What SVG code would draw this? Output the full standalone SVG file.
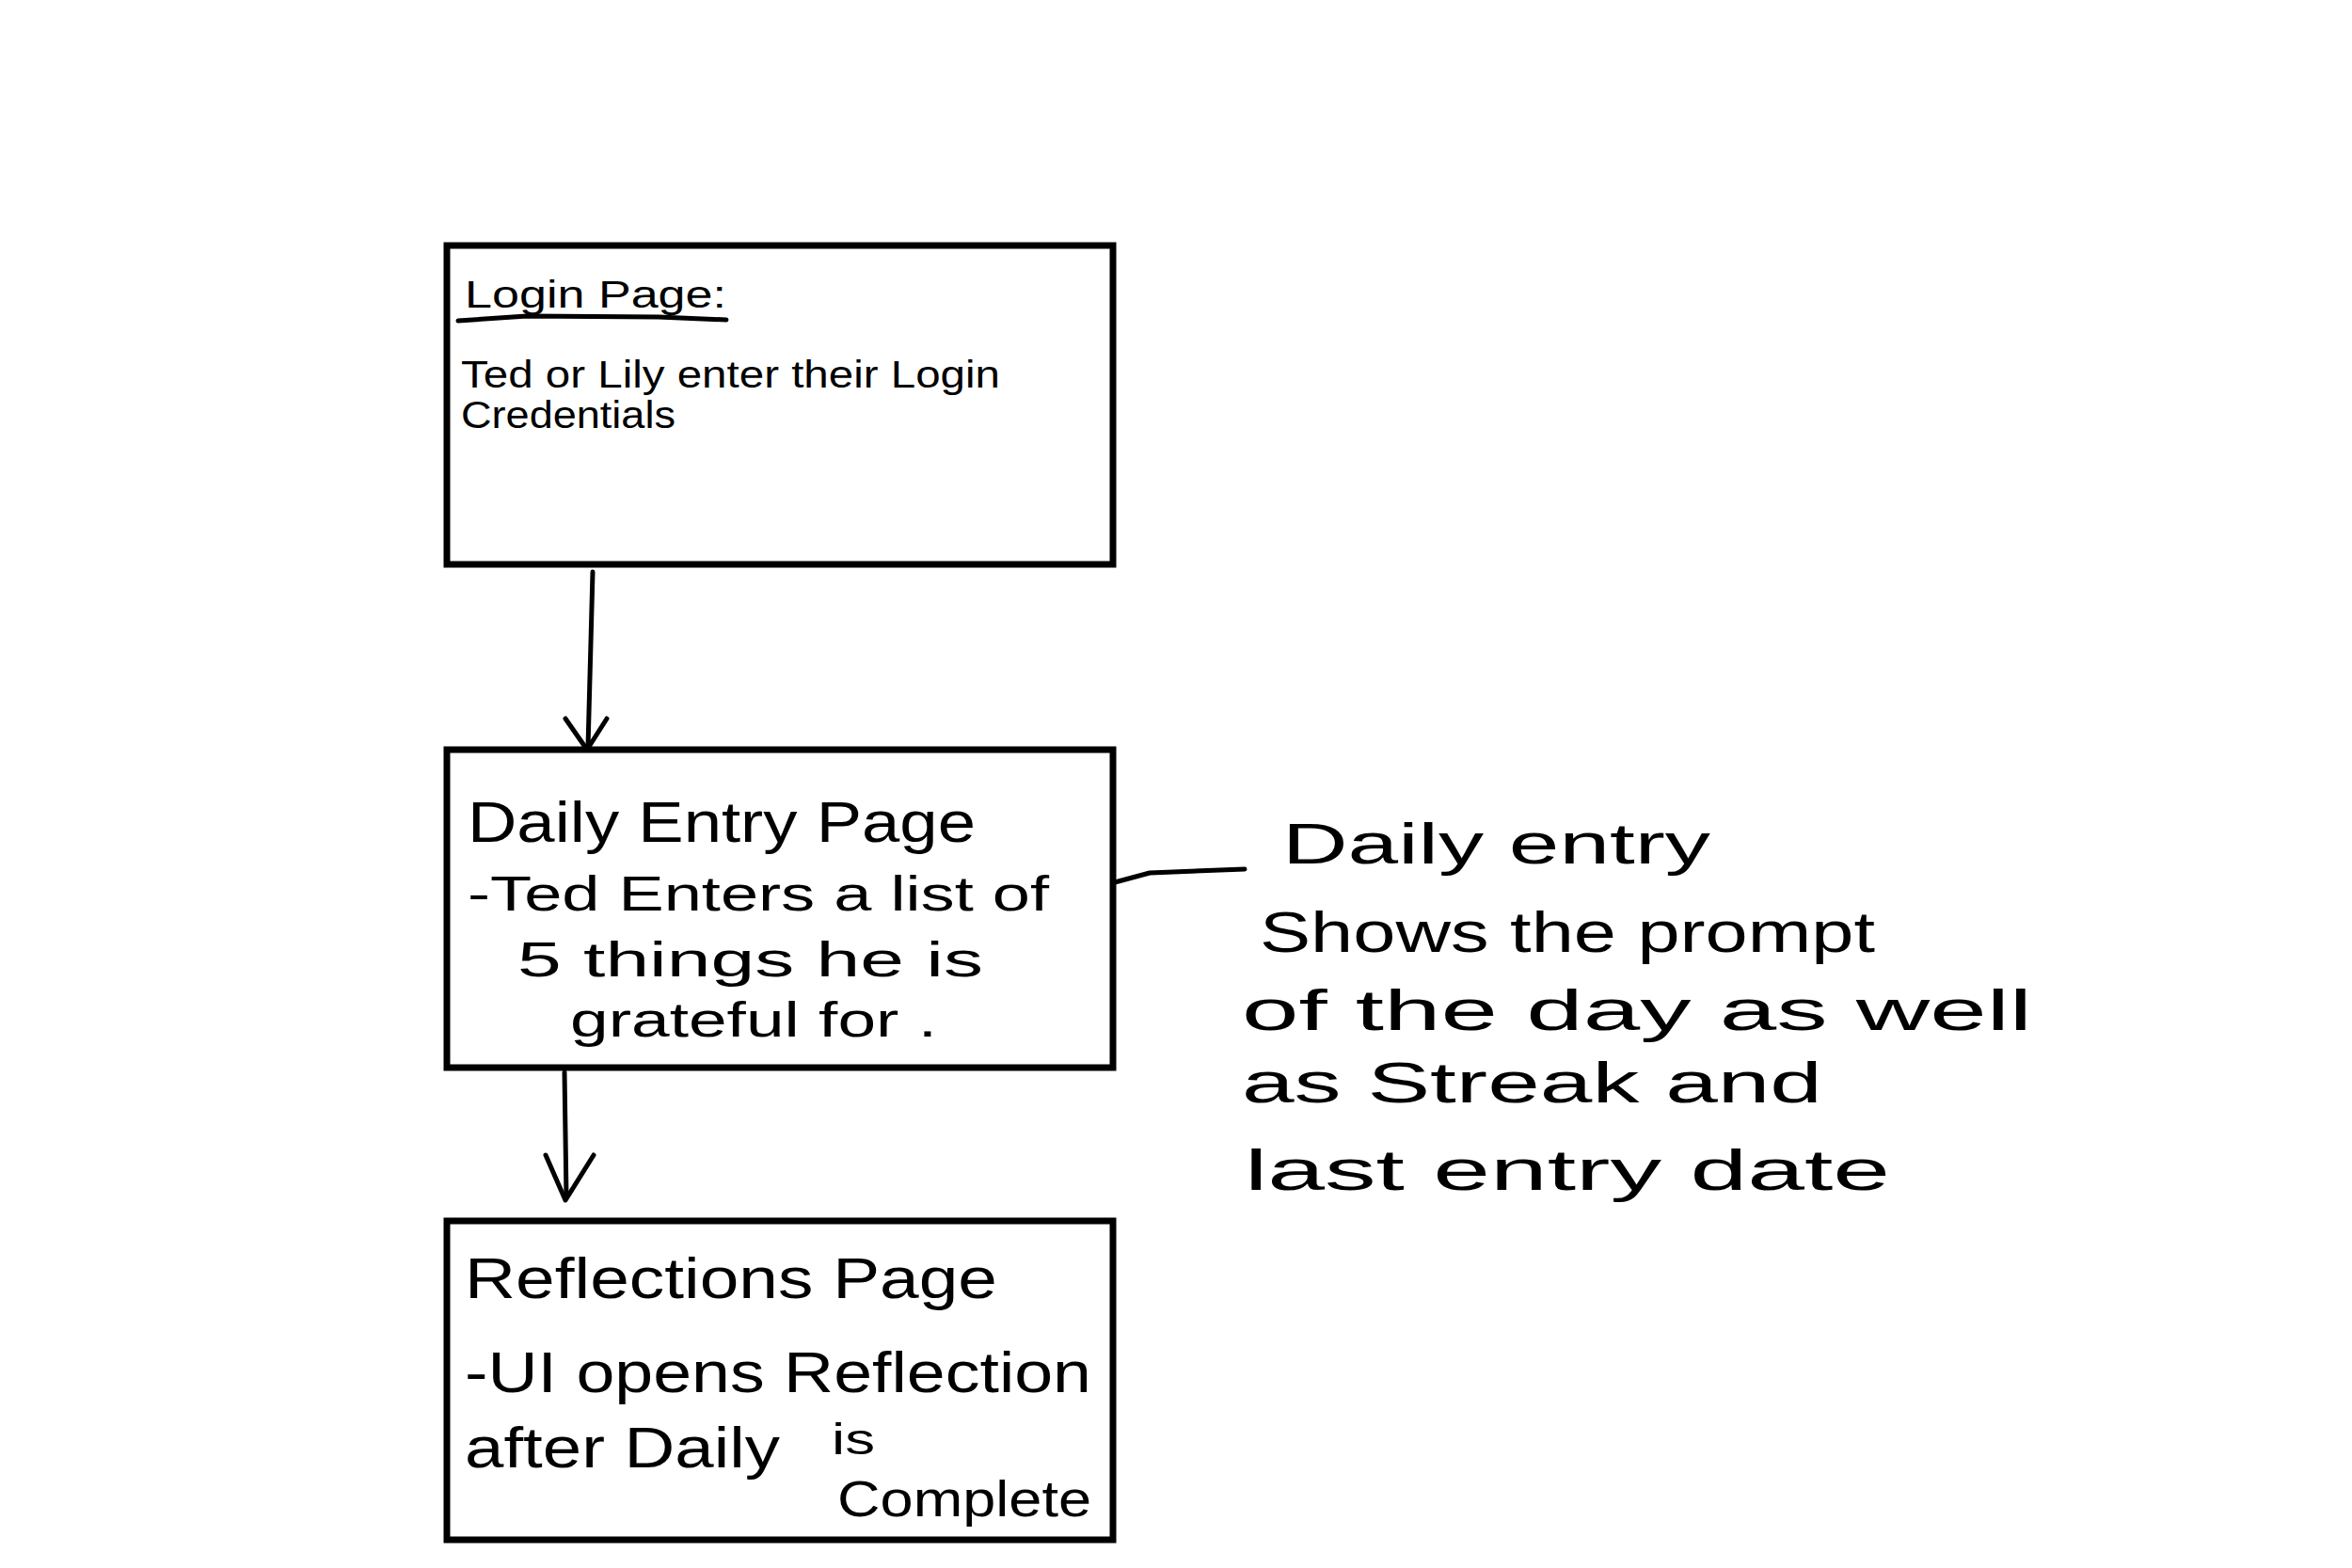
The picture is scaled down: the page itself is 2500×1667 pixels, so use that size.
<svg xmlns="http://www.w3.org/2000/svg" width="2500" height="1667" viewBox="0 0 2500 1667">
<style>
.box{fill:#fff;stroke:#000;stroke-width:7;stroke-linecap:round}
.ln{fill:none;stroke:#000;stroke-width:5;stroke-linecap:round;stroke-linejoin:round}
text{font-family:"Liberation Sans",Arial,sans-serif;fill:#000}
.s{font-size:40px}
.m{font-size:52px}
.l{font-size:62px}
</style>
<rect width="2500" height="1667" fill="#fff"/>
<g id="connectors">
<path class="ln" d="M630 608 L625 795"/>
<path class="ln" d="M601 764 L624 797 L645 764"/>
<path class="ln" d="M600 1140 L602 1272"/>
<path class="ln" d="M580 1228 L601 1276 L631 1228"/>
<path class="ln" d="M1185 938 L1222 928 L1323 924"/>
</g>
<g id="login">
<rect class="box" x="475" y="261" width="708" height="339"/>
<text class="s" x="494" y="327" textLength="278" lengthAdjust="spacingAndGlyphs">Login Page:</text>
<path class="ln" d="M487 341 L560 336 L700 337 L772 340"/>
<text class="s" x="490" y="412" textLength="573" lengthAdjust="spacingAndGlyphs">Ted or Lily enter  their Login</text>
<text class="s" x="490" y="455" textLength="228" lengthAdjust="spacingAndGlyphs">Credentials</text>
</g>
<g id="daily">
<rect class="box" x="475" y="797" width="708" height="338"/>
<text class="l" x="497" y="895" textLength="540" lengthAdjust="spacingAndGlyphs">Daily  Entry  Page</text>
<text class="m" x="497" y="968" textLength="618" lengthAdjust="spacingAndGlyphs">-Ted  Enters  a  list of</text>
<text class="m" x="550" y="1038" textLength="495" lengthAdjust="spacingAndGlyphs">5  things  he  is</text>
<text class="m" x="606" y="1102" font-size="46" textLength="390" lengthAdjust="spacingAndGlyphs">grateful for .</text>
</g>
<g id="reflections">
<rect class="box" x="475" y="1298" width="708" height="339"/>
<text class="l" x="494" y="1380" textLength="566" lengthAdjust="spacingAndGlyphs">Reflections  Page</text>
<text class="l" x="494" y="1480" textLength="666" lengthAdjust="spacingAndGlyphs">-UI  opens  Reflection</text>
<text class="l" x="494" y="1560" textLength="335" lengthAdjust="spacingAndGlyphs">after Daily</text>
<text x="884" y="1546" font-size="46" textLength="46" lengthAdjust="spacingAndGlyphs">is</text>
<text x="890" y="1612" font-size="54" textLength="270" lengthAdjust="spacingAndGlyphs">Complete</text>
</g>
<g id="note">
<text class="l" x="1363" y="918" textLength="455" lengthAdjust="spacingAndGlyphs">Daily  entry</text>
<text class="l" x="1339" y="1012" textLength="654" lengthAdjust="spacingAndGlyphs">Shows  the  prompt</text>
<text class="l" x="1320" y="1095" textLength="840" lengthAdjust="spacingAndGlyphs">of  the  day    as  well</text>
<text class="l" x="1320" y="1172" textLength="617" lengthAdjust="spacingAndGlyphs">as  Streak  and</text>
<text class="l" x="1323" y="1265" textLength="686" lengthAdjust="spacingAndGlyphs">last  entry  date</text>
</g>
</svg>
